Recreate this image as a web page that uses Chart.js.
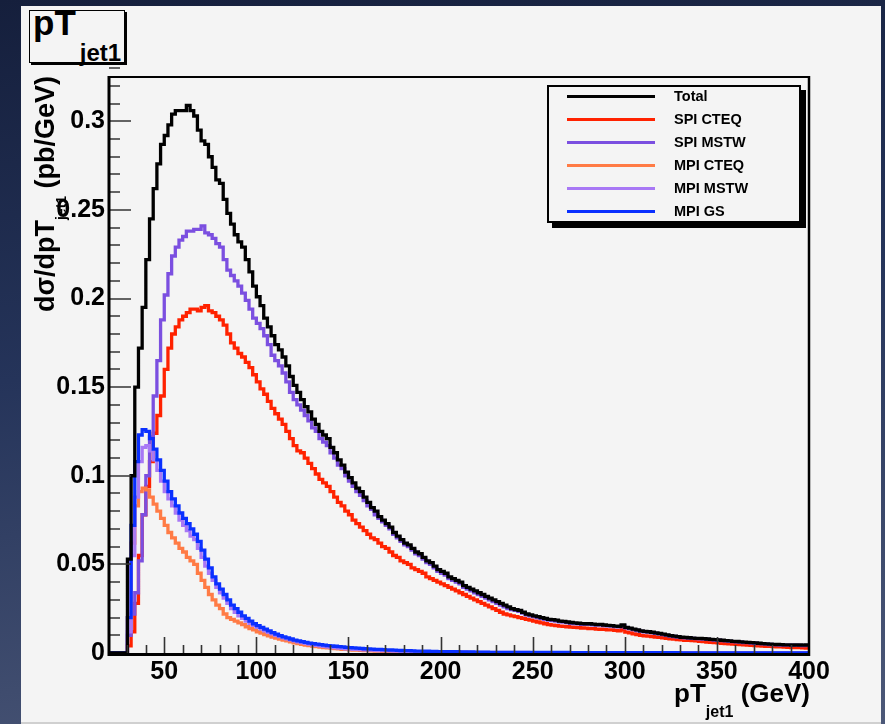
<!DOCTYPE html>
<html><head><meta charset="utf-8">
<script src="https://cdn.jsdelivr.net/npm/chart.js@4.4.1/dist/chart.umd.min.js"></script>
<style>
html,body{margin:0;padding:0;}
body{width:885px;height:724px;overflow:hidden;position:relative;
  background:linear-gradient(172deg,#151f3c 0%,#25345a 45%,#4c5878 100%);
  font-family:'Liberation Sans',Arial,Helvetica,sans-serif;font-weight:bold;color:#000;}
#panel{position:absolute;left:21px;top:6px;width:860px;height:716px;background:#f4f4f4;border-bottom:2px solid #d0d0d0;}
canvas{position:absolute;left:0;top:0;}
.lbl{position:absolute;white-space:nowrap;line-height:1;}
#titlebox{position:absolute;left:29px;top:10px;width:96px;height:53px;box-sizing:border-box;border:1px solid #000;box-shadow:2px 2px 0 #000;background:#f4f4f4;}
#legend{position:absolute;left:547px;top:85px;width:254px;height:138px;box-sizing:border-box;border:2px solid #000;box-shadow:5px 5px 0 #000;background:#f4f4f4;}
#legend .ln{position:absolute;left:18px;width:88px;height:3px;}
#legend .tx{position:absolute;left:125px;font-size:14.5px;line-height:1;white-space:nowrap;}
</style></head><body>
<div id="panel"></div>
<div id="titlebox"></div>
<div class="lbl" style="left:33px;top:5px;font-size:35px;">pT<span style="font-size:24px;line-height:1;vertical-align:-26px;margin-left:4px;">jet1</span></div>
<canvas id="c" width="885" height="724"></canvas>
<div class="lbl" id="ytitle" style="left:32px;top:312px;font-size:27px;transform-origin:0 0;transform:rotate(-90deg);">d&sigma;/dpT<span style="font-size:14px;line-height:1;vertical-align:-12px;">jet1</span> (pb/GeV)</div>
<div class="lbl" id="xtitle" style="right:75px;top:680px;font-size:26px;">pT<span style="font-size:16px;line-height:1;vertical-align:-15px;">jet1</span> (GeV)</div>
<div id="legend"></div>
<script>
// ---- binning of the histograms (GeV) ----
const binLow = 20;
const binWidth = 2;

// ---- series (pb/GeV), one value per 2 GeV bin from 20 to 400 ----
const seriesNames = ["Total", "SPI CTEQ", "SPI MSTW", "MPI CTEQ", "MPI MSTW", "MPI GS"];
const seriesColors = ["#000000", "#ff2200", "#7b4fe0", "#ff7b45", "#a878f5", "#0a30ff"];

const total = [
0,0,0,0,0,0.053,0.100,0.150,0.172,0.195,
0.222,0.245,0.262,0.276,0.287,0.292,0.298,0.304,0.306,0.306,
0.306,0.309,0.306,0.303,0.295,0.289,0.287,0.280,0.274,0.267,
0.265,0.256,0.248,0.242,0.236,0.232,0.229,0.222,0.215,0.207,
0.201,0.196,0.189,0.184,0.179,0.174,0.171,0.167,0.162,0.156,
0.151,0.147,0.143,0.139,0.136,0.132,0.129,0.125,0.123,0.121,
0.116,0.113,0.109,0.106,0.102,0.099,0.096,0.093,0.091,0.088,
0.085,0.082,0.080,0.077,0.075,0.073,0.071,0.068,0.066,0.064,
0.062,0.061,0.059,0.057,0.056,0.054,0.052,0.051,0.049,0.047,
0.046,0.045,0.043,0.042,0.041,0.040,0.038,0.037,0.036,0.035,
0.034,0.033,0.032,0.031,0.030,0.029,0.028,0.027,0.026,0.025,
0.0245,0.024,0.023,0.022,0.0215,0.021,0.0205,0.020,0.0195,0.019,
0.0188,0.0185,0.018,0.0178,0.0175,0.0172,0.017,0.0168,0.0166,0.0165,
0.0165,0.0163,0.016,0.0162,0.0158,0.0156,0.0155,0.0152,0.015,0.0158,
0.0145,0.014,0.0135,0.013,0.0125,0.0122,0.012,0.0117,0.0113,0.011,
0.0106,0.0102,0.0098,0.0095,0.0092,0.0089,0.0088,0.0086,0.0084,0.0083,
0.0082,0.0081,0.0079,0.0077,0.0075,0.0074,0.0072,0.007,0.0068,0.0066,
0.0065,0.0063,0.0061,0.006,0.0058,0.0057,0.0055,0.0053,0.0052,0.005,
0.0049,0.0048,0.0047,0.0046,0.0046,0.0045,0.0046,0.0045,0.0044,0.0045];

const spiCteq = [
0,0,0,0,0,0.004,0.012,0.028,0.055,0.078,
0.094,0.108,0.124,0.134,0.145,0.160,0.172,0.180,0.184,0.188,
0.190,0.192,0.194,0.194,0.193,0.195,0.196,0.193,0.192,0.190,
0.188,0.185,0.180,0.175,0.172,0.169,0.167,0.164,0.161,0.157,
0.153,0.149,0.146,0.142,0.138,0.135,0.132,0.129,0.125,0.121,
0.117,0.114,0.113,0.110,0.107,0.104,0.101,0.098,0.096,0.094,
0.091,0.088,0.085,0.083,0.080,0.078,0.075,0.073,0.071,0.069,
0.067,0.065,0.064,0.062,0.060,0.059,0.057,0.055,0.054,0.052,
0.051,0.050,0.048,0.047,0.046,0.045,0.043,0.042,0.041,0.040,
0.039,0.038,0.037,0.036,0.035,0.034,0.033,0.032,0.031,0.030,
0.029,0.028,0.027,0.026,0.025,0.024,0.023,0.022,0.0215,0.021,
0.0205,0.020,0.0195,0.019,0.0185,0.018,0.0175,0.017,0.0165,0.016,
0.0157,0.0155,0.0152,0.015,0.0148,0.0146,0.0145,0.0143,0.0141,0.014,
0.0138,0.0137,0.0135,0.0134,0.0133,0.0131,0.013,0.0128,0.0125,0.0132,
0.0118,0.0113,0.0108,0.0104,0.010,0.0097,0.0095,0.0092,0.009,0.0088,
0.0085,0.0082,0.008,0.0078,0.0076,0.0074,0.0072,0.0071,0.007,0.0068,
0.0066,0.0064,0.0062,0.006,0.0058,0.0057,0.0055,0.0053,0.0052,0.005,
0.0049,0.0047,0.0046,0.0044,0.0043,0.0042,0.004,0.0039,0.0038,0.0037,
0.0036,0.0035,0.0034,0.0033,0.0032,0.0031,0.003,0.003,0.0029,0.0028];

const spiMstw = [
0,0,0,0,0,0.010,0.022,0.034,0.052,0.078,
0.100,0.122,0.145,0.165,0.188,0.202,0.214,0.224,0.229,0.233,
0.235,0.238,0.238,0.239,0.239,0.241,0.237,0.236,0.234,0.231,
0.229,0.222,0.216,0.213,0.210,0.207,0.203,0.199,0.194,0.189,
0.186,0.183,0.179,0.174,0.168,0.165,0.162,0.158,0.153,0.147,
0.143,0.140,0.137,0.134,0.131,0.127,0.125,0.121,0.119,0.117,
0.113,0.110,0.106,0.104,0.100,0.097,0.094,0.091,0.089,0.086,
0.083,0.081,0.078,0.076,0.074,0.072,0.070,0.067,0.065,0.063,
0.061,0.060,0.058,0.056,0.055,0.053,0.051,0.050,0.048,0.046,
0.045,0.044,0.042,0.041,0.040,0.039,0.037,0.036,0.035,0.034,
0.033,0.032,0.031,0.030,0.029,0.028,0.027,0.026,0.025,0.0245,
0.024,0.0235,0.0225,0.0215,0.021,0.0205,0.020,0.0195,0.019,0.0185,
0.0183,0.018,0.0176,0.0174,0.0171,0.0168,0.0166,0.0164,0.0162,0.0161,
0.0161,0.0159,0.0157,0.0159,0.0155,0.0153,0.0152,0.0149,0.0147,0.0155,
0.0142,0.0137,0.0132,0.0127,0.0122,0.012,0.0118,0.0115,0.0111,0.0108,
0.0104,0.010,0.0096,0.0093,0.009,0.0087,0.0086,0.0084,0.0082,0.0081,
0.008,0.0079,0.0077,0.0075,0.0073,0.0072,0.007,0.0068,0.0066,0.0064,
0.0063,0.0061,0.0059,0.0058,0.0056,0.0055,0.0053,0.0051,0.005,0.0048,
0.0047,0.0046,0.0045,0.0044,0.0044,0.0043,0.0044,0.0043,0.0042,0.0043];

const mpiCteq = [
0,0,0,0,0,0.020,0.062,0.083,0.091,0.093,
0.092,0.088,0.084,0.080,0.076,0.072,0.068,0.065,0.062,0.059,
0.057,0.054,0.052,0.050,0.045,0.041,0.037,0.033,0.030,0.027,
0.025,0.022,0.020,0.019,0.018,0.017,0.016,0.0148,0.0138,0.013,
0.012,0.0112,0.0104,0.0097,0.009,0.0084,0.0078,0.0073,0.0068,0.0063,
0.0057,0.0053,0.0049,0.0045,0.0042,0.0039,0.0036,0.0033,0.0031,0.0029,
0.0027,0.0025,0.0023,0.0021,0.002,0.0018,0.0017,0.0016,0.0015,0.0014,
0.0013,0.0012,0.0011,0.0011,0.001,0.0009,0.0009,0.0008,0.0008,0.0007,
0.0007,0.0006,0.0006,0.0006,0.0005,0.0005,0.0005,0.0004,0.0004,0.0004,
0.0004,0.0004,0.0003,0.0003,0.0003,0.0003,0.0003,0.0003,0.0002,0.0002,
0.0002,0.0002,0.0002,0.0002,0.0002,0.0002,0.0002,0.0002,0.0002,0.0002,
0.0002,0.0002,0.0002,0.0002,0.0002,0.0001,0.0001,0.0001,0.0001,0.0001,
0.0001,0.0001,0.0001,0.0001,0.0001,0.0001,0.0001,0.0001,0.0001,0.0001,
0.0001,0.0001,0.0001,0.0001,0.0001,0.0001,0.0001,0.0001,0.0001,0.0001,
0.0001,0.0001,0.0001,0.0001,0.0001,0.0001,0.0001,0.0001,0.0001,0.0001,
0.0001,0.0001,0.0001,0.0001,0.0001,0.0001,0.0001,0.0001,0.0001,0.0001,
0.0001,0.0001,0.0001,0.0001,0.0001,0.0001,0.0001,0.0001,0.0001,0.0001,
0.0001,0.0001,0.0001,0.0001,0.0001,0.0001,0.0001,0.0001,0.0001,0.0001,
0.0001,0.0001,0.0001,0.0001,0.0001,0.0001,0.0001,0.0001,0.0001,0.0001];

const mpiMstw = [
0,0,0,0,0,0.012,0.055,0.088,0.108,0.116,
0.117,0.114,0.109,0.103,0.097,0.091,0.087,0.083,0.079,0.075,
0.072,0.069,0.066,0.064,0.059,0.054,0.049,0.045,0.041,0.037,
0.034,0.031,0.028,0.025,0.023,0.021,0.0195,0.018,0.0168,0.0156,
0.0145,0.0135,0.0125,0.0116,0.0108,0.010,0.0093,0.0086,0.008,0.0074,
0.0068,0.0063,0.0058,0.0054,0.005,0.0046,0.0043,0.004,0.0037,0.0034,
0.0032,0.003,0.0028,0.0026,0.0024,0.0023,0.0021,0.002,0.0019,0.0018,
0.0017,0.0016,0.0015,0.0014,0.0013,0.0013,0.0012,0.0011,0.0011,0.001,
0.001,0.0009,0.0009,0.0008,0.0008,0.0008,0.0007,0.0007,0.0007,0.0006,
0.0006,0.0006,0.0005,0.0005,0.0005,0.0005,0.0005,0.0004,0.0004,0.0004,
0.0004,0.0004,0.0003,0.0003,0.0003,0.0003,0.0003,0.0003,0.0003,0.0003,
0.0003,0.0003,0.0003,0.0003,0.0002,0.0002,0.0002,0.0002,0.0002,0.0002,
0.0002,0.0002,0.0002,0.0002,0.0002,0.0002,0.0002,0.0002,0.0002,0.0002,
0.0002,0.0002,0.0002,0.0002,0.0002,0.0001,0.0001,0.0001,0.0001,0.0001,
0.0001,0.0001,0.0001,0.0001,0.0001,0.0001,0.0001,0.0001,0.0001,0.0001,
0.0001,0.0001,0.0001,0.0001,0.0001,0.0001,0.0001,0.0001,0.0001,0.0001,
0.0001,0.0001,0.0001,0.0001,0.0001,0.0001,0.0001,0.0001,0.0001,0.0001,
0.0001,0.0001,0.0001,0.0001,0.0001,0.0001,0.0001,0.0001,0.0001,0.0001,
0.0001,0.0001,0.0001,0.0001,0.0001,0.0001,0.0001,0.0001,0.0001,0.0001];

const mpiGs = [
0,0,0,0,0,0.020,0.072,0.108,0.123,0.126,
0.125,0.121,0.115,0.109,0.103,0.097,0.091,0.087,0.083,0.079,
0.076,0.073,0.070,0.067,0.063,0.058,0.053,0.048,0.043,0.039,
0.036,0.033,0.030,0.027,0.025,0.023,0.021,0.0195,0.018,0.0165,
0.0155,0.0145,0.0135,0.0125,0.0115,0.0106,0.0098,0.0091,0.0085,0.0079,
0.0073,0.0068,0.0064,0.006,0.0056,0.0053,0.005,0.0047,0.0044,0.0042,
0.004,0.0038,0.0036,0.0034,0.0032,0.003,0.0029,0.0027,0.0026,0.0024,
0.0023,0.0022,0.0021,0.002,0.0019,0.0018,0.0017,0.0016,0.0015,0.0014,
0.0013,0.0013,0.0012,0.0011,0.0011,0.001,0.001,0.0009,0.0009,0.0008,
0.0008,0.0008,0.0007,0.0007,0.0007,0.0006,0.0006,0.0006,0.0006,0.0005,
0.0005,0.0005,0.0005,0.0004,0.0004,0.0004,0.0004,0.0004,0.0004,0.0003,
0.0003,0.0003,0.0003,0.0003,0.0003,0.0003,0.0003,0.0003,0.0003,0.0003,
0.0003,0.0003,0.0003,0.0003,0.0003,0.0002,0.0002,0.0002,0.0002,0.0002,
0.0002,0.0002,0.0002,0.0002,0.0002,0.0002,0.0002,0.0002,0.0002,0.0002,
0.0002,0.0002,0.0002,0.0002,0.0002,0.0002,0.0002,0.0002,0.0002,0.0002,
0.0002,0.0002,0.0002,0.0002,0.0002,0.0001,0.0001,0.0001,0.0001,0.0001,
0.0001,0.0001,0.0001,0.0001,0.0001,0.0001,0.0001,0.0001,0.0001,0.0001,
0.0001,0.0001,0.0001,0.0001,0.0001,0.0001,0.0001,0.0001,0.0001,0.0001,
0.0001,0.0001,0.0001,0.0001,0.0001,0.0001,0.0001,0.0001,0.0001,0.0001];

// ---- axes ----
const xRange = [20, 400];
const yRange = [0, 0.325];
const xTickValues = [50, 100, 150, 200, 250, 300, 350, 400];
const xTickLabels = ["50", "100", "150", "200", "250", "300", "350", "400"];
const yTickValues = [0, 0.05, 0.1, 0.15, 0.2, 0.25, 0.3];
const yTickLabels = ["0", "0.05", "0.1", "0.15", "0.2", "0.25", "0.3"];
const xMinorStep = 10, yMinorStep = 0.01;

// drawing order (lower = on top)
const seriesValues = [total, spiCteq, spiMstw, mpiCteq, mpiMstw, mpiGs];
const seriesOrder = [0, 5, 4, 3, 2, 1];

function toHistogram(values) {
  const pts = values.map((v, i) => ({ x: binLow + i * binWidth, y: v }));
  pts.push({ x: binLow + values.length * binWidth, y: values[values.length - 1] });
  return pts;
}

const framePlugin = {
  id: 'rootFrame',
  afterDatasetsDraw(chart) {
    const { ctx, chartArea: a, scales: { x, y } } = chart;
    ctx.save();
    // inward tick marks
    ctx.strokeStyle = '#333';
    ctx.lineWidth = 1.6;
    ctx.beginPath();
    const nY = Math.round((yRange[1] - yRange[0]) / yMinorStep);
    for (let k = 1; k <= nY; k++) {
      const v = k * yMinorStep;
      const py = Math.round(y.getPixelForValue(v));
      const len = (k % 5 === 0) ? 22 : 11;
      ctx.moveTo(a.left, py); ctx.lineTo(a.left + len, py);
    }
    for (let g = xRange[0] + xMinorStep; g < xRange[1]; g += xMinorStep) {
      const px = Math.round(x.getPixelForValue(g)) + 0.5;
      const len = (g % 50 === 0) ? 16 : 8;
      ctx.moveTo(px, a.bottom); ctx.lineTo(px, a.bottom - len);
    }
    ctx.stroke();
    // frame
    ctx.strokeStyle = '#000';
    ctx.lineWidth = 2;
    ctx.beginPath();
    ctx.moveTo(a.left, a.top); ctx.lineTo(a.right, a.top);
    ctx.stroke();
    ctx.lineWidth = 2.5;
    ctx.beginPath();
    ctx.moveTo(a.right, a.top - 1); ctx.lineTo(a.right, a.bottom + 3);
    ctx.stroke();
    ctx.lineWidth = 3;
    ctx.beginPath();
    ctx.moveTo(a.left, a.top - 1); ctx.lineTo(a.left, a.bottom + 3);
    ctx.moveTo(a.left - 1.5, a.bottom + 1.5); ctx.lineTo(a.right + 1, a.bottom + 1.5);
    ctx.stroke();
    ctx.restore();
  }
};

Chart.defaults.font.family = "'Liberation Sans', Arial, Helvetica, sans-serif";

const chart = new Chart(document.getElementById('c'), {
  type: 'line',
  data: {
    datasets: seriesNames.map((name, i) => ({
      label: name,
      data: toHistogram(seriesValues[i]),
      borderColor: seriesColors[i],
      backgroundColor: seriesColors[i],
      borderWidth: 3.3,
      stepped: true,
      fill: false,
      pointRadius: 0,
      tension: 0,
      borderJoinStyle: 'miter',
      borderCapStyle: 'butt',
      order: seriesOrder[i]
    }))
  },
  options: {
    responsive: false,
    animation: false,
    devicePixelRatio: 1,
    parsing: true,
    layout: { padding: { left: 0, top: 77, right: 76, bottom: 0 } },
    plugins: { legend: { display: false }, tooltip: { enabled: false }, title: { display: false } },
    scales: {
      x: {
        type: 'linear', min: xRange[0], max: xRange[1],
        grid: { display: false, drawTicks: false },
        border: { display: false },
        afterBuildTicks: s => { s.ticks = xTickValues.map(v => ({ value: v })); },
        afterFit: s => { s.height = 71; },
        ticks: { autoSkip: false, maxRotation: 0, minRotation: 0, padding: 4, color: '#000',
          font: { size: 25, weight: 'bold' }, callback: (v, i) => xTickLabels[i] }
      },
      y: {
        type: 'linear', min: yRange[0], max: yRange[1],
        grid: { display: false, drawTicks: false },
        border: { display: false },
        afterBuildTicks: s => { s.ticks = yTickValues.map(v => ({ value: v })); },
        afterFit: s => { s.width = 109; },
        ticks: { autoSkip: false, padding: 4, color: '#000',
          font: { size: 25, weight: 'bold' }, callback: (v, i) => yTickLabels[i] }
      }
    }
  },
  plugins: [framePlugin]
});

// legend box built from the chart's datasets
const legend = document.getElementById('legend');
chart.data.datasets.forEach((ds, i) => {
  const cy = 9.7 + i * 22.9;
  const ln = document.createElement('div');
  ln.className = 'ln';
  ln.style.top = (cy - 1.5) + 'px';
  ln.style.background = ds.borderColor;
  legend.appendChild(ln);
  const tx = document.createElement('div');
  tx.className = 'tx';
  tx.style.top = (cy + 5 - 12.3) + 'px';
  tx.textContent = ds.label;
  legend.appendChild(tx);
});
</script>
</body></html>
